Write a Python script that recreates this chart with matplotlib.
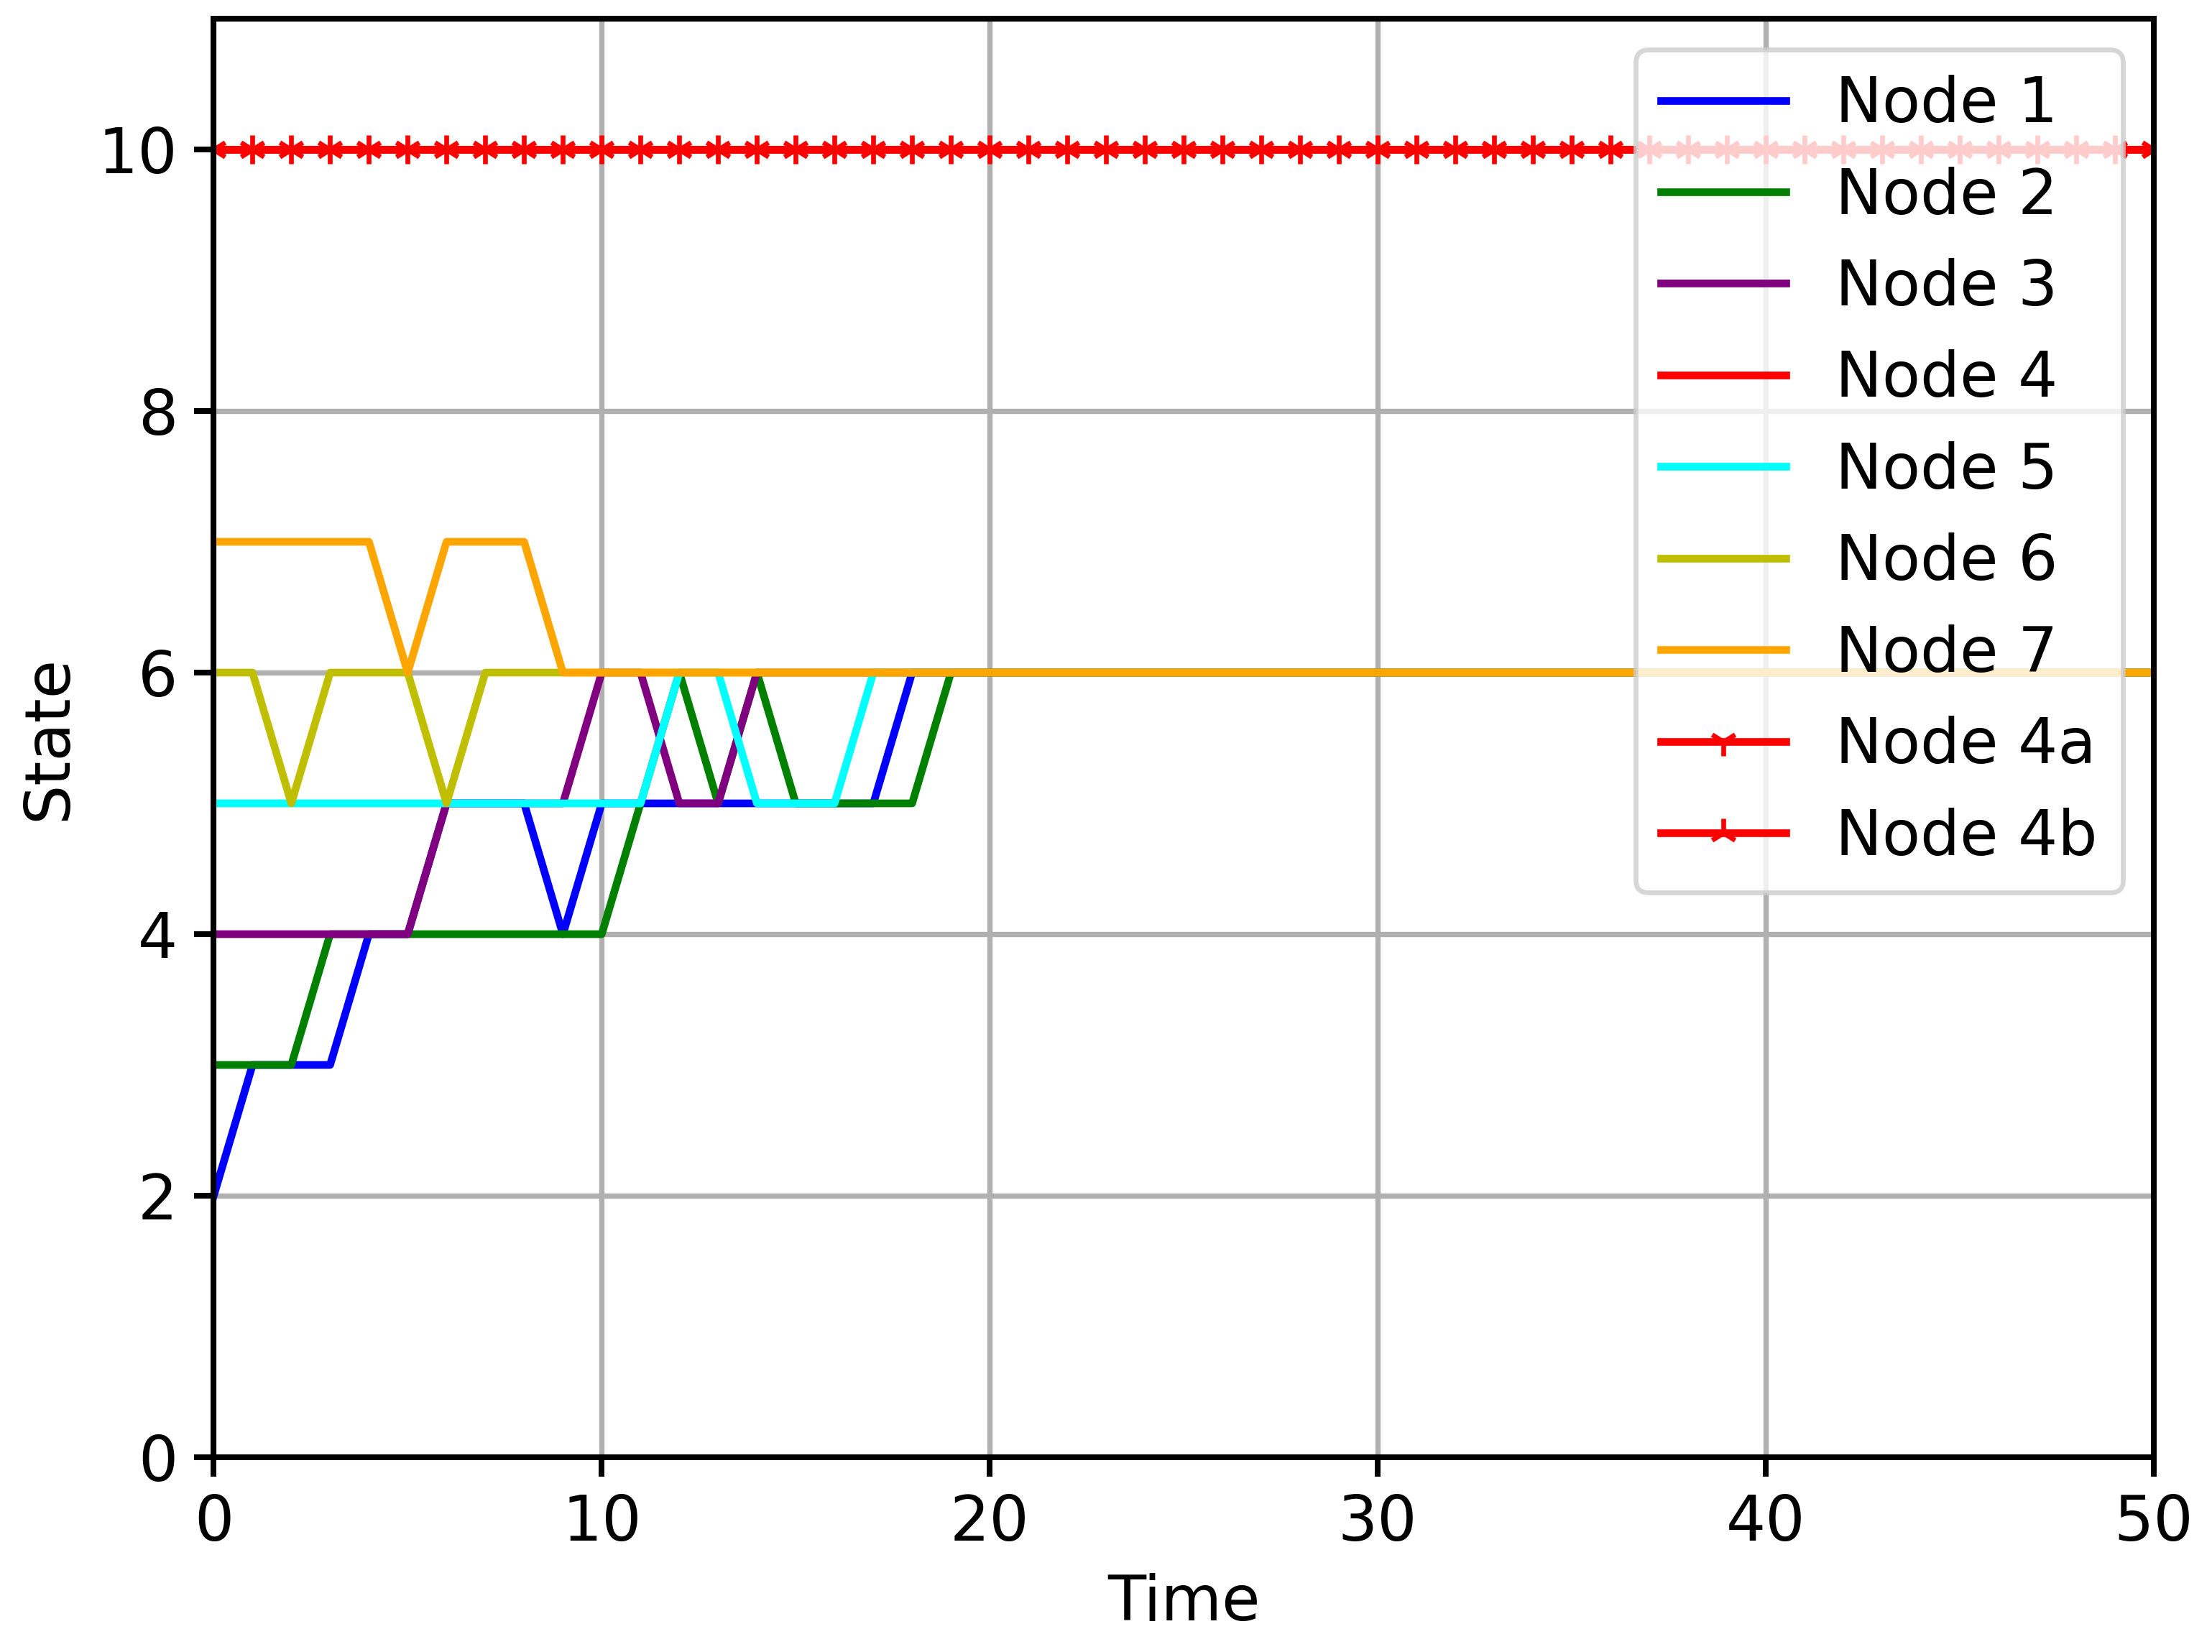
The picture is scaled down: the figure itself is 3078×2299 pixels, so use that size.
import matplotlib
matplotlib.use("Agg")
import matplotlib.pyplot as plt
import numpy as np

t = np.arange(0, 51)
node1 = [2,3,3,3,4,4,5,5,5,4,5,5,5,5,5,5,5,5,6]
node2 = [3,3,3,4,4,4,4,4,4,4,4,5,6,5,6,5,5,5,5,6]
node3 = [4,4,4,4,4,4,5,5,5,5,6,6,5,5,6]
node4 = [10]
node5 = [5,5,5,5,5,5,5,5,5,5,5,5,6,6,5,5,5,6]
node6 = [6,6,5,6,6,6,5,6,6,6]
node7 = [7,7,7,7,7,6,7,7,7,6]

def extend(v):
    return list(v) + [v[-1]] * (len(t) - len(v))

plt.rcParams.update({'font.size': 13, 'axes.linewidth': 1.2,
                     'xtick.major.width': 1.2, 'ytick.major.width': 1.2,
                     'xtick.major.size': 4, 'ytick.major.size': 4,
                     'lines.linewidth': 1.6, 'grid.linewidth': 1.1})

fig, ax = plt.subplots(figsize=(6.4, 4.78), dpi=481)
ax.plot(t, extend(node1), color='blue', label='Node 1')
ax.plot(t, extend(node2), color='green', label='Node 2')
ax.plot(t, extend(node3), color='purple', label='Node 3')
ax.plot(t, extend(node4), color='red', label='Node 4')
ax.plot(t, extend(node5), color='cyan', label='Node 5')
ax.plot(t, extend(node6), color='y', label='Node 6')
ax.plot(t, extend(node7), color='orange', label='Node 7')
ax.plot(t, extend(node4), color='red', marker='1', label='Node 4a')
ax.plot(t, extend(node4), color='red', marker='2', label='Node 4b')
ax.set_xlim(0, 50)
ax.set_ylim(0, 11)
ax.set_yticks([0, 2, 4, 6, 8, 10])
ax.set_xlabel('Time')
ax.set_ylabel('State')
ax.grid(True)
ax.legend(loc='upper right')
fig.tight_layout(pad=0.3)
fig.savefig('out.png')
